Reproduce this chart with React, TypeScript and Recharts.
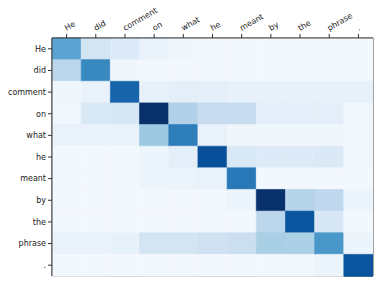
import { BarChart, Bar, XAxis, YAxis, Cell, ReferenceArea } from "recharts";

// source tokens (columns) and target tokens (rows)
const source = ["He", "did", "comment", "on", "what", "he", "meant", "by", "the", "phrase", "."];
const target = ["He", "did", "comment", "on", "what", "he", "meant", "by", "the", "phrase", "."];

// attention weights, one row per target token
const weights: number[][] = [
  [0.55, 0.18, 0.13, 0.07, 0.04, 0.02, 0.02, 0.02, 0.02, 0.02, 0.02],
  [0.28, 0.66, 0.04, 0.03, 0.02, 0.02, 0.02, 0.02, 0.02, 0.02, 0.02],
  [0.04, 0.07, 0.8, 0.08, 0.1, 0.09, 0.08, 0.08, 0.08, 0.08, 0.08],
  [0.03, 0.15, 0.16, 1.0, 0.32, 0.24, 0.24, 0.1, 0.1, 0.1, 0.03],
  [0.07, 0.07, 0.07, 0.38, 0.7, 0.07, 0.04, 0.04, 0.04, 0.04, 0.03],
  [0.02, 0.02, 0.02, 0.05, 0.09, 0.88, 0.15, 0.13, 0.13, 0.14, 0.03],
  [0.02, 0.02, 0.02, 0.05, 0.06, 0.07, 0.72, 0.02, 0.02, 0.02, 0.02],
  [0.02, 0.02, 0.02, 0.02, 0.02, 0.02, 0.05, 1.0, 0.3, 0.27, 0.05],
  [0.02, 0.02, 0.02, 0.02, 0.02, 0.02, 0.02, 0.28, 0.86, 0.16, 0.02],
  [0.07, 0.07, 0.08, 0.18, 0.18, 0.2, 0.22, 0.34, 0.33, 0.6, 0.05],
  [0.02, 0.02, 0.02, 0.02, 0.02, 0.02, 0.02, 0.02, 0.02, 0.05, 0.86],
];

const colTicks = source.map((_, i) => i + 0.5);

// matplotlib "Blues"
const blues = ["#f7fbff", "#deebf7", "#c6dbef", "#9ecae1", "#6baed6", "#4292c6", "#2171b5", "#08519c", "#08306b"];

function hex(c: string) {
  return [1, 3, 5].map((i) => parseInt(c.slice(i, i + 2), 16));
}

function bluesColor(v: number) {
  const t = Math.max(0, Math.min(1, v)) * (blues.length - 1);
  const i = Math.min(Math.floor(t), blues.length - 2);
  const f = t - i;
  const a = hex(blues[i]);
  const b = hex(blues[i + 1]);
  const rgb = a.map((x, k) => Math.round(x + (b[k] - x) * f));
  return `rgb(${rgb.join(",")})`;
}

const data = target.map((row) => {
  const d: Record<string, string | number> = { row };
  source.forEach((_, j) => {
    d["c" + j] = 1;
  });
  return d;
});

function TopTick(props: any) {
  const { x, y, payload } = props;
  const label = source[Math.round(payload.value - 0.5)];
  return (
    <g transform={`translate(${x},${y - 1})`}>
      <text x={0} y={0} transform="rotate(-30)" textAnchor="start" fontSize={8} fill="#222">
        {label}
      </text>
    </g>
  );
}

export default function App() {
  return (
    <div style={{ position: "absolute", left: 0, top: 0, fontFamily: "DejaVu Sans", background: "#fff" }}>
      <BarChart
        width={382}
        height={285}
        data={data}
        layout="vertical"
        barCategoryGap={0}
        margin={{ top: 8, right: 9, bottom: 9, left: 0 }}
      >
        <XAxis
          type="number"
          orientation="top"
          domain={[0, 11]}
          ticks={colTicks}
          height={30}
          tick={<TopTick />}
          tickSize={4}
          tickMargin={2}
          interval={0}
          axisLine={{ stroke: "#444" }}
          tickLine={{ stroke: "#333" }}
          allowDataOverflow
        />
        <YAxis
          type="category"
          dataKey="row"
          width={52}
          tickSize={4}
          tickMargin={2}
          interval={0}
          tick={{ fontSize: 8, fill: "#222" }}
          axisLine={{ stroke: "#444" }}
          tickLine={{ stroke: "#333" }}
        />
        {source.map((_, j) => (
          <Bar key={j} dataKey={"c" + j} stackId="a" isAnimationActive={false}>
            {weights.map((r, i) => (
              <Cell key={i} fill={bluesColor(r[j])} stroke={bluesColor(r[j])} strokeWidth={0.6} />
            ))}
          </Bar>
        ))}
        <ReferenceArea x1={0} x2={11} fill="none" stroke="#444" strokeWidth={1} />
      </BarChart>
    </div>
  );
}
